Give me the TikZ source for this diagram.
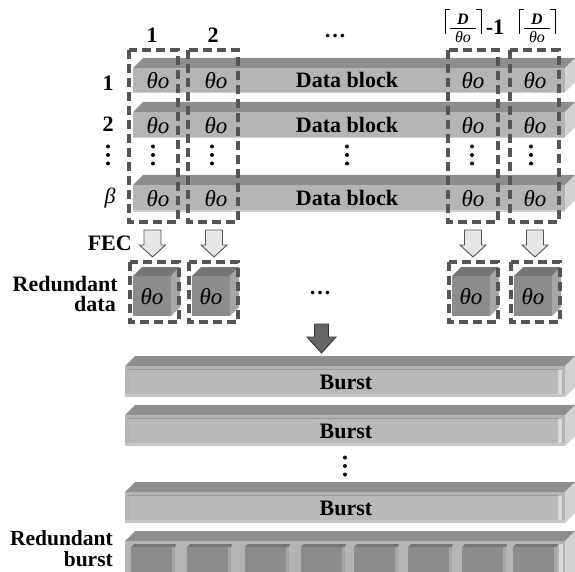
\documentclass[tikz,border=0pt]{standalone}
\usepackage{fontspec}
\setmainfont{Liberation Serif}
\definecolor{frontc}{HTML}{B4B4B4}
\definecolor{topc}{HTML}{8E8E8E}
\definecolor{sidec}{HTML}{D2D2D2}
\definecolor{innerc}{HTML}{B9B9B9}
\definecolor{bevc}{HTML}{DADADA}
\definecolor{cubef}{HTML}{8C8C8C}
\definecolor{cubet}{HTML}{767676}
\definecolor{cubes}{HTML}{A6A6A6}
\definecolor{dashc}{HTML}{555555}
\definecolor{arrowc}{HTML}{E6E6E6}
\definecolor{arrowd}{HTML}{555555}
\definecolor{darkarr}{HTML}{666666}
\newcommand{\slab}[8]{%
  \fill[#7] (#1,#2) -- (#1+#5,#2-#5) -- (#3+#5,#2-#5) -- (#3,#2) -- cycle;
  \fill[#8] (#3,#2) -- (#3+#5,#2-#5) -- (#3+#5,#4-#5) -- (#3,#4) -- cycle;
  \fill[#6] (#1,#2) rectangle (#3,#4);
}
\newcommand{\vdotsat}[2]{%
  \foreach \dd in {-8.5,0,8.5} {\fill (#1,#2+\dd) circle (2);}
}
\begin{document}
\begin{tikzpicture}[x=1pt,y=-1pt,
  lbl/.style={font=\fontsize{22}{23}\selectfont\bfseries, inner sep=0pt},
  th/.style={font=\fontsize{23}{24}\selectfont\itshape, inner sep=0pt},
  small/.style={inner sep=0pt},
  dbox/.style={draw=dashc, line width=3.2pt, dash pattern=on 9pt off 5pt},
  fecarrow/.style={fill=arrowc, draw=arrowd, line width=0.9pt, line join=miter},
  bigarrow/.style={fill=darkarr, draw=black!80, line width=0.9pt, line join=miter}]
\useasboundingbox (0,0) rectangle (575,572);
\clip (0,0) rectangle (575,572);

% ---- data block bars
\slab{133}{68}{565}{92}{10}{frontc}{topc}{sidec}
\slab{133}{112}{565}{137}{10}{frontc}{topc}{sidec}
\slab{133}{185}{565}{210}{10}{frontc}{topc}{sidec}
\foreach \yy in {92,137,210} {\fill[sidec] (133,\yy) rectangle (565,\yy+1.5);}

\node[lbl] (db1) at (347,80) {Data block};
\node[lbl] (db2) at (347,124.5) {Data block};
\node[lbl] (db3) at (347,197.5) {Data block};

% theta o cells
\foreach \cx/\nm in {158/a,216/b,473/c,535/d} {
  \node[th] (t1\nm) at (\cx,81) {θo};
  \node[th] (t2\nm) at (\cx,125.5) {θo};
  \node[th] (t3\nm) at (\cx,198.5) {θo};
}

% row labels
\node[lbl] (r1) at (108,83) {1};
\node[lbl] (r2) at (108,124) {2};
\node[lbl, font=\fontsize{22}{23}\selectfont\itshape] (rb) at (110,198) {β};

% vertical dots
\vdotsat{108}{155}
\vdotsat{153}{155}
\vdotsat{212}{155}
\vdotsat{347}{155}
\vdotsat{472}{155}
\vdotsat{531}{155}

% column headers
\node[lbl] (c1) at (152,35) {1};
\node[lbl] (c2) at (213,35) {2};
\node[lbl] (cdots) at (335,36) {…};
\foreach \cx/\nm in {463/p,537/q} {
  \node[small, font=\fontsize{16}{17}\selectfont\bfseries\itshape] (D\nm) at (\cx,19) {D};
  \node[small, font=\fontsize{16}{17}\selectfont\itshape] (T\nm) at (\cx,37) {θo};
  \draw[line width=1.2pt] (\cx-13,28.5) -- (\cx+13,28.5);
  \draw[line width=1pt] (\cx-18,34) -- (\cx-18,10) -- (\cx-13,10);
  \draw[line width=1pt] (\cx+13,10) -- (\cx+18,10) -- (\cx+18,34);
}
\node[lbl] (m1) at (495,27) {-1};

% column dashed boxes
\draw[dbox] (129,50) rectangle (178,222);
\draw[dbox] (188,50) rectangle (238,222);
\draw[dbox] (448,50) rectangle (498,222);
\draw[dbox] (510,50) rectangle (559,222);

% FEC arrows
\node[lbl, anchor=east] (fec) at (132,243) {FEC};
\foreach \c in {152.5,214,473,535} {
  \draw[fecarrow] ({\c-8.5},230) -- ({\c+8.5},230) -- ({\c+8.5},245) -- ({\c+13},245)
     -- (\c,257) -- ({\c-13},245) -- ({\c-8.5},245) -- cycle;
}

% redundant data cubes
\node[lbl, anchor=east] (rd1) at (118,284) {Redundant};
\node[lbl, anchor=east] (rd2) at (116,304) {data};
\foreach \bx/\nm in {130/a,189/b,449/c,511/d} {
  \slab{\bx+3}{276}{\bx+41}{316}{9}{cubef}{cubet}{cubes}
  \node[th] (rc\nm) at (\bx+22,297) {θo};
  \draw[dbox] (\bx,262) rectangle (\bx+49,322);
}
\node[lbl] (mdots) at (320,293) {…};

% big arrow
\draw[bigarrow] (314.5,324) -- (328.5,324) -- (328.5,337) -- (336,337) -- (321.5,353)
   -- (307,337) -- (314.5,337) -- cycle;

% bursts
\foreach \yt/\yb/\nm in {366/397/a,415/446/b,492/523/c} {
  \slab{125}{\yt}{565}{\yb}{10}{frontc}{topc}{sidec}
  \fill[innerc] (129,\yt+3.5) rectangle (558,\yb-3);
  \fill[bevc] (558,\yt+3.5) rectangle (562,\yb-1.5);
  \fill[black!22] (125,\yb-3) rectangle (565,\yb);
  \draw[black!40, line width=0.6pt] (127,\yt+3.5) -- (558,\yt+3.5);
}
\node[lbl] (b1) at (346,382) {Burst};
\node[lbl] (b2) at (346,431) {Burst};
\node[lbl] (b3) at (346,508) {Burst};
\vdotsat{345}{466}

% redundant burst
\slab{125}{541}{565}{590}{10}{frontc}{topc}{sidec}
\fill[bevc] (559,544) rectangle (563,590);
\foreach \bx in {131,187,245,301,354,408,462,513} {
  \fill[cubet] (\bx,547) -- (\bx+3,544) -- (\bx+45,544) -- (\bx+44,547) -- cycle;
  \fill[cubef] (\bx,547) rectangle (\bx+44,590);
  \fill[cubes] (\bx+41,547) rectangle (\bx+44,590);
}
\node[lbl, anchor=east, font=\fontsize{21.5}{22}\selectfont\bfseries] (rb1) at (113,538.5) {Redundant};
\node[lbl, anchor=east, font=\fontsize{21.5}{22}\selectfont\bfseries] (rb2) at (113,559) {burst};
\end{tikzpicture}
\end{document}
